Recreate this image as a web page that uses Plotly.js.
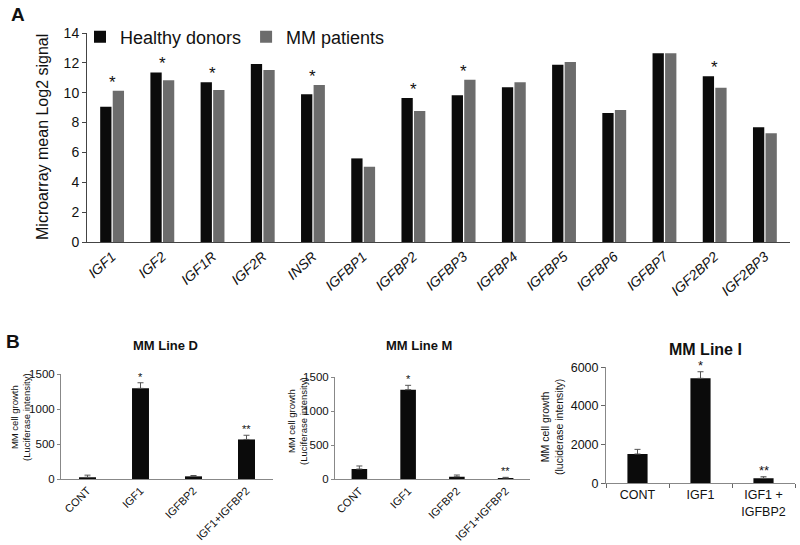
<!DOCTYPE html>
<html>
<head>
<meta charset="utf-8">
<script src="https://cdn.plot.ly/plotly-3.0.1.min.js"></script>
<style>html,body{margin:0;padding:0;background:#fff;}#chart{width:800px;height:545px;}</style>
</head>
<body>
<div id="chart"></div>
<script>
// ---- Panel A data ----
const genes = ['IGF1','IGF2','IGF1R','IGF2R','INSR','IGFBP1','IGFBP2','IGFBP3','IGFBP4','IGFBP5','IGFBP6','IGFBP7','IGF2BP2','IGF2BP3'];
const healthy = [9.06, 11.36, 10.70, 11.92, 9.89, 5.60, 9.65, 9.83, 10.36, 11.88, 8.64, 12.64, 11.10, 7.68];
const mmPatients = [10.13, 10.83, 10.18, 11.52, 10.52, 5.04, 8.77, 10.87, 10.70, 12.06, 8.84, 12.64, 10.34, 7.28];
const geneSig = ['*','*','*','','*','','*','*','','','','','*',''];

// ---- Panel B data ----
const catsDM = ['CONT','IGF1','IGFBP2','IGF1+IGFBP2'];
const lineD = [25, 1295, 38, 565];
const lineDErr = [30, 80, 12, 60];
const lineDSig = ['','*','','**'];
const lineM = [151, 1318, 38, 19];
const lineMErr = [45, 64, 25, 10];
const lineMSig = ['','*','','**'];
const catsI = ['CONT','IGF1','IGF1 +<br>IGFBP2'];
const lineI = [1515, 5430, 260];
const lineIErr = [240, 340, 80];
const lineISig = ['','*','**'];

const FONT = 'Arial, "Liberation Sans", sans-serif';
const H = 545, W = 800;
const px = x => x / W;
const py = y => (H - y) / H;

const traces = [
  {type:'bar', x:genes, y:healthy, name:'Healthy donors', marker:{color:'#0b0b0b'}, xaxis:'x', yaxis:'y'},
  {type:'bar', x:genes, y:mmPatients, name:'MM patients', marker:{color:'#6c6c6c'}, xaxis:'x', yaxis:'y'},
  {type:'bar', x:catsDM, y:lineD, width:0.32, showlegend:false, marker:{color:'#0b0b0b'}, xaxis:'x2', yaxis:'y2',
   error_y:{type:'data', array:lineDErr, symmetric:false, arrayminus:lineDErr.map(()=>0), color:'#555', thickness:1, width:3}},
  {type:'bar', x:catsDM, y:lineM, width:0.32, showlegend:false, marker:{color:'#0b0b0b'}, xaxis:'x3', yaxis:'y3',
   error_y:{type:'data', array:lineMErr, symmetric:false, arrayminus:lineMErr.map(()=>0), color:'#555', thickness:1, width:3}},
  {type:'bar', x:catsI, y:lineI, width:0.32, showlegend:false, marker:{color:'#0b0b0b'}, xaxis:'x4', yaxis:'y4',
   error_y:{type:'data', array:lineIErr, symmetric:false, arrayminus:lineIErr.map(()=>0), color:'#555', thickness:1, width:3}}
];

const annotations = [];
genes.forEach((g,i)=>{
  if (geneSig[i]) annotations.push({xref:'x', yref:'y', x:g, y:Math.max(healthy[i], mmPatients[i]), text:geneSig[i],
    showarrow:false, xanchor:'center', yanchor:'bottom', yshift:-3, font:{family:FONT, size:17, color:'#111'}});
});
function addStars(cats, vals, errs, sig, xr, yr, size, shift){
  cats.forEach((c,i)=>{
    if (sig[i]) annotations.push({xref:xr, yref:yr, x:c, y:vals[i]+errs[i], text:sig[i], showarrow:false,
      xanchor:'center', yanchor:'bottom', yshift:shift, font:{family:FONT, size:size, color:'#111'}});
  });
}
addStars(catsDM, lineD, lineDErr, lineDSig, 'x2', 'y2', 11, -2);
addStars(catsDM, lineM, lineMErr, lineMSig, 'x3', 'y3', 11, -2);
addStars(catsI, lineI, lineIErr, lineISig, 'x4', 'y4', 13, -3);

function paperText(x, y, text, size, angle){
  annotations.push({xref:'paper', yref:'paper', x:px(x), y:py(y), text:text, textangle:angle||0, showarrow:false,
    xanchor:'center', yanchor:'middle', font:{family:FONT, size:size, color:'#111'}});
}
paperText(18, 14, '<b>A</b>', 19);
paperText(13, 341, '<b>B</b>', 19);
paperText(43, 137, 'Microarray mean Log2 signal', 16, -90);
paperText(165, 345, '<b>MM Line D</b>', 13);
paperText(419, 345, '<b>MM Line M</b>', 13);
paperText(705, 350, '<b>MM Line I</b>', 16);
paperText(20, 417, 'MM cell growth<br>(Luciferase intensity)', 9.5, -90);
paperText(297, 421, 'MM cell growth<br>(Luciferase intensity)', 9.5, -90);
paperText(552, 427, 'MM cell growth<br>(luciderase intensity)', 10.5, -90);

const axA = {showgrid:false, zeroline:false, showline:true, linecolor:'#444', linewidth:1};
const axB = {showgrid:false, zeroline:false, showline:true, linecolor:'#888', linewidth:1};

const layout = {
  width:W, height:H, margin:{l:0, r:0, t:0, b:0},
  paper_bgcolor:'#fff', plot_bgcolor:'#fff',
  barmode:'group', bargap:0.5, bargroupgap:0.1,
  font:{family:FONT, color:'#111'},
  showlegend:true,
  legend:{orientation:'h', x:px(80), y:py(37), xanchor:'left', yanchor:'middle', bgcolor:'rgba(0,0,0,0)',
          font:{family:FONT, size:18, color:'#111'}, itemclick:false},
  xaxis: Object.assign({}, axA, {domain:[px(87), px(790)], anchor:'y', ticks:'', tickangle:-42,
          tickfont:{family:FONT, size:14, style:'italic', color:'#111'}}),
  yaxis: Object.assign({}, axA, {domain:[py(242), py(33)], anchor:'x', range:[0,14], dtick:2, ticks:'outside', ticklen:4, tickcolor:'#444',
          tickfont:{family:FONT, size:14, color:'#111'}}),
  xaxis2: Object.assign({}, axB, {domain:[px(61), px(273)], anchor:'y2', ticks:'', tickangle:-45, range:[-0.5,3.5],
          tickfont:{family:FONT, size:11, color:'#111'}}),
  yaxis2: Object.assign({}, axB, {domain:[py(479), py(374)], anchor:'x2', range:[0,1500], dtick:500, ticks:'outside', ticklen:3, tickcolor:'#888',
          tickfont:{family:FONT, size:11.5, color:'#111'}}),
  xaxis3: Object.assign({}, axB, {domain:[px(335), px(530)], anchor:'y3', ticks:'', tickangle:-45, range:[-0.5,3.5],
          tickfont:{family:FONT, size:11, color:'#111'}}),
  yaxis3: Object.assign({}, axB, {domain:[py(479.3), py(377.3)], anchor:'x3', range:[0,1500], dtick:500, ticks:'outside', ticklen:3, tickcolor:'#888',
          tickfont:{family:FONT, size:11.5, color:'#111'}}),
  xaxis4: Object.assign({}, axB, {domain:[px(606), px(795)], anchor:'y4', ticks:'outside', tickson:'boundaries', ticklen:4, tickcolor:'#666', tickangle:0, range:[-0.5,2.5],
          tickfont:{family:FONT, size:12.5, color:'#111'}}),
  yaxis4: Object.assign({}, axB, {domain:[py(483.3), py(367.3)], anchor:'x4', range:[0,6000], dtick:2000, ticks:'outside', ticklen:4, tickcolor:'#666',
          tickfont:{family:FONT, size:12.5, color:'#111'}}),
  annotations: annotations
};

Plotly.newPlot('chart', traces, layout, {staticPlot:true, displayModeBar:false});
</script>
</body>
</html>
